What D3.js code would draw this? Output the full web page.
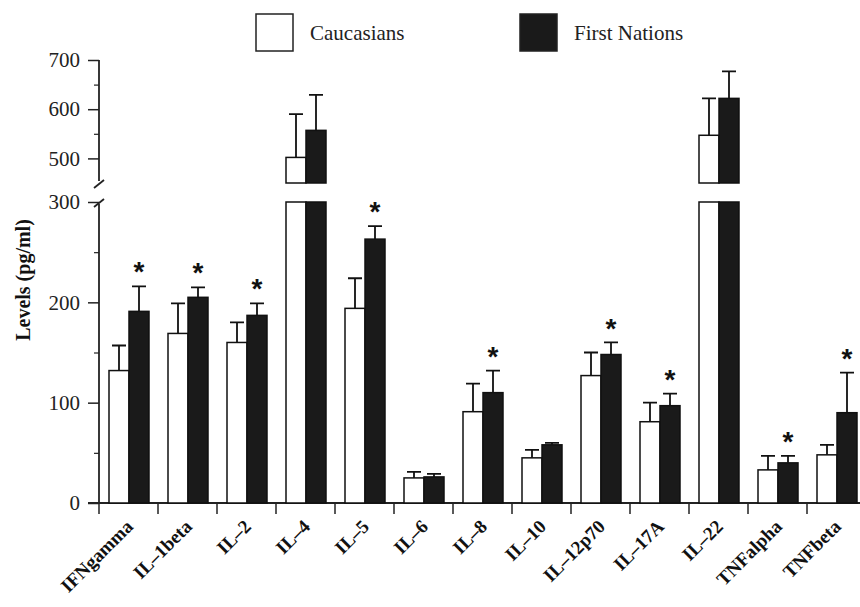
<!DOCTYPE html>
<html>
<head>
<meta charset="utf-8">
<script src="https://cdn.jsdelivr.net/npm/d3@7.9.0/dist/d3.min.js"></script>
<style>
  body { margin: 0; background: #fff; }
  svg { display: block; font-family: "Liberation Serif", "Times New Roman", serif; }
</style>
</head>
<body>
<svg id="chart" width="860" height="607"></svg>
<script>
// cytokine levels
const cytokines = ["IFNgamma", "IL–1beta", "IL–2", "IL–4", "IL–5", "IL–6", "IL–8",
  "IL–10", "IL–12p70", "IL–17A", "IL–22", "TNFalpha", "TNFbeta"];
const caucasians   = [132, 169, 160, 502, 194, 25, 91, 45, 127, 81, 547, 33, 48];
const caucasiansSE = [157, 199, 180, 590, 224, 31, 119, 53, 150, 100, 622, 47, 58];
const firstNations   = [191, 205, 187, 557, 263, 26, 110, 58, 148, 97, 622, 40, 90];
const firstNationsSE = [216, 215, 199, 629, 276, 29, 132, 60, 160, 109, 677, 47, 130];
const significant = ["IFNgamma", "IL–1beta", "IL–2", "IL–5", "IL–8", "IL–12p70", "IL–17A", "TNFalpha", "TNFbeta"];
const seriesNames = ["Caucasians", "First Nations"];
const lowTicks = [0, 100, 200, 300];
const lowMinor = [50, 150, 250];
const highTicks = [500, 600, 700];
const highMinor = [550, 650];

const svg = d3.select("#chart");
const black = "#1a1a1a";

// broken y axis: two linear pieces
const yLow = d3.scaleLinear().domain([0, 300]).range([503, 202]);
const yHigh = d3.scaleLinear().domain([450, 700]).range([183, 60]);
const x = d3.scaleBand().domain(cytokines).range([99, 99 + 13 * 59]);
const xs = d3.scaleBand().domain(seriesNames).range([10, 50]);

const rows = cytokines.map((c, i) => ({
  c,
  vals: [
    { s: "Caucasians", v: caucasians[i], se: caucasiansSE[i] },
    { s: "First Nations", v: firstNations[i], se: firstNationsSE[i] }
  ]
}));

// y axes
function yaxis(scale, major, minor) {
  const g = svg.append("g").attr("transform", "translate(99,0)");
  g.call(d3.axisLeft(scale).tickValues(major).tickSize(11).tickSizeOuter(0).tickPadding(8));
  g.call(gg => gg.select(".domain").remove());
  g.selectAll("text").attr("font-family", "Liberation Serif").attr("font-size", 21).attr("fill", "#222");
  g.selectAll("line").attr("stroke", "#222").attr("stroke-width", 1.5);
  const m = svg.append("g").attr("transform", "translate(99,0)");
  m.call(d3.axisLeft(scale).tickValues(minor).tickSize(5).tickFormat(""));
  m.select(".domain").remove();
  m.selectAll("line").attr("stroke", "#222").attr("stroke-width", 1.2);
}
yaxis(yLow, lowTicks, lowMinor);
yaxis(yHigh, highTicks, highMinor);

svg.append("line").attr("x1", 99).attr("x2", 99).attr("y1", yHigh(700)).attr("y2", 181)
  .attr("stroke", "#222").attr("stroke-width", 1.8);
svg.append("line").attr("x1", 99).attr("x2", 99).attr("y1", 204).attr("y2", yLow(0))
  .attr("stroke", "#222").attr("stroke-width", 1.8);
// break marks
[184, 203].forEach(yy => {
  svg.append("line").attr("x1", 94).attr("y1", yy + 4).attr("x2", 104).attr("y2", yy - 4)
    .attr("stroke", "#222").attr("stroke-width", 1.8);
});

// x axis
svg.append("line").attr("x1", 88).attr("x2", 860).attr("y1", yLow(0)).attr("y2", yLow(0))
  .attr("stroke", "#222").attr("stroke-width", 1.8);
svg.append("g").selectAll("line").data(cytokines).join("line")
  .attr("x1", d => x(d)).attr("x2", d => x(d))
  .attr("y1", yLow(0)).attr("y2", yLow(0) + 11)
  .attr("stroke", "#222").attr("stroke-width", 1.5);

svg.append("g").selectAll("text").data(cytokines).join("text")
  .attr("transform", d => `translate(${x(d) + x.bandwidth() / 2 + 1},${yLow(0) + 20}) rotate(-45)`)
  .attr("text-anchor", "end")
  .attr("dy", "0.35em")
  .attr("font-weight", "bold")
  .attr("font-size", 19)
  .attr("fill", "#111")
  .text(d => d);

// bars
const groups = svg.append("g").selectAll("g").data(rows).join("g")
  .attr("transform", d => `translate(${x(d.c)},0)`);

const fill = s => s === "Caucasians" ? "#fff" : black;

groups.selectAll("rect.low").data(d => d.vals).join("rect")
  .attr("class", "low")
  .attr("x", d => xs(d.s)).attr("width", xs.bandwidth())
  .attr("y", d => yLow(Math.min(d.v, 300)))
  .attr("height", d => yLow(0) - yLow(Math.min(d.v, 300)))
  .attr("fill", d => fill(d.s)).attr("stroke", "#111").attr("stroke-width", 1.5);

groups.selectAll("rect.high").data(d => d.vals.filter(v => v.v > 450)).join("rect")
  .attr("class", "high")
  .attr("x", d => xs(d.s)).attr("width", xs.bandwidth())
  .attr("y", d => yHigh(d.v))
  .attr("height", d => yHigh(450) - yHigh(d.v))
  .attr("fill", d => fill(d.s)).attr("stroke", "#111").attr("stroke-width", 1.5);

const yv = v => v > 300 ? yHigh(v) : yLow(v);

// error bars
groups.selectAll("path.err").data(d => d.vals).join("path")
  .attr("class", "err")
  .attr("d", d => {
    const cx = xs(d.s) + xs.bandwidth() / 2;
    return `M${cx},${yv(d.v)}V${yv(d.se)}M${cx - 7},${yv(d.se)}H${cx + 7}`;
  })
  .attr("fill", "none").attr("stroke", "#111").attr("stroke-width", 1.8);

// significance stars
groups.filter(d => significant.includes(d.c)).append("text")
  .attr("x", xs("First Nations") + xs.bandwidth() / 2)
  .attr("y", d => yv(d.vals[1].se) - 25)
  .attr("dy", "0.72em")
  .attr("text-anchor", "middle")
  .attr("font-family", "Liberation Sans")
  .attr("font-weight", "bold")
  .attr("font-size", 28)
  .attr("fill", "#111")
  .text("*");

// y label
svg.append("text")
  .attr("transform", "translate(23,280) rotate(-90)")
  .attr("text-anchor", "middle")
  .attr("dy", "0.35em")
  .attr("font-weight", "bold")
  .attr("font-size", 20)
  .attr("fill", "#111")
  .text("Levels (pg/ml)");

// legend
const legend = svg.append("g");
const lx = [255, 519];
seriesNames.forEach((s, i) => {
  legend.append("rect").attr("x", lx[i] + 1).attr("y", 14).attr("width", 37).attr("height", 37)
    .attr("fill", fill(s)).attr("stroke", "#222").attr("stroke-width", 1.5);
  legend.append("text").attr("x", lx[i] + 55).attr("y", 33).attr("dy", "0.35em")
    .attr("font-size", 21).attr("fill", "#222").text(s);
});
</script>
</body>
</html>
